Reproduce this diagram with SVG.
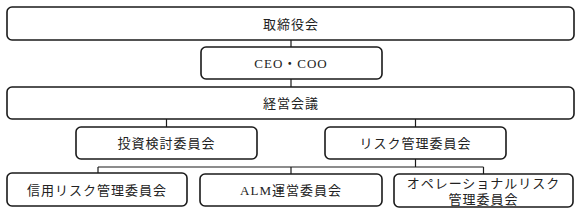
<svg xmlns="http://www.w3.org/2000/svg" width="581" height="213" viewBox="0 0 581 213">
<style>
.box{fill:#fff;stroke:#1a1a1a;stroke-width:1.6}
.ln{fill:none;stroke:#1a1a1a;stroke-width:1.2}
text{font-family:"Liberation Serif","Noto Sans CJK JP",serif;font-size:13px;fill:#222;text-anchor:middle;dominant-baseline:central;letter-spacing:1px}
</style>
<rect width="581" height="213" fill="#fff"/>
<g id="connectors">
<path class="ln" d="M291 40V47M291 79V87M166.5 119V127M415.5 119V127M415.5 159V167M98 167H483.5M98 167V173M291 167V174M483.5 167V174"/>
</g>
<g id="board"><rect class="box" x="7" y="7" width="567" height="33" rx="5"/><text x="291" y="24">取締役会</text></g>
<g id="ceo"><rect class="box" x="201" y="47" width="181" height="32" rx="5"/><text x="291" y="63">CEO・COO</text></g>
<g id="mgmt"><rect class="box" x="7" y="87" width="567" height="32" rx="5"/><text x="291" y="103">経営会議</text></g>
<g id="invest"><rect class="box" x="76" y="127" width="181" height="32" rx="5"/><text x="166.5" y="143">投資検討委員会</text></g>
<g id="risk"><rect class="box" x="325" y="127" width="181" height="32" rx="5"/><text x="415.5" y="143">リスク管理委員会</text></g>
<g id="credit"><rect class="box" x="7" y="173" width="180" height="33" rx="5"/><text x="97" y="190">信用リスク管理委員会</text></g>
<g id="alm"><rect class="box" x="200" y="174" width="182" height="32" rx="5"/><text x="291" y="190">ALM運営委員会</text></g>
<g id="oper"><rect class="box" x="394" y="174" width="179" height="33" rx="5"/><text x="483.5" y="183">オペレーショナルリスク</text><text x="483.5" y="199">管理委員会</text></g>
</svg>
